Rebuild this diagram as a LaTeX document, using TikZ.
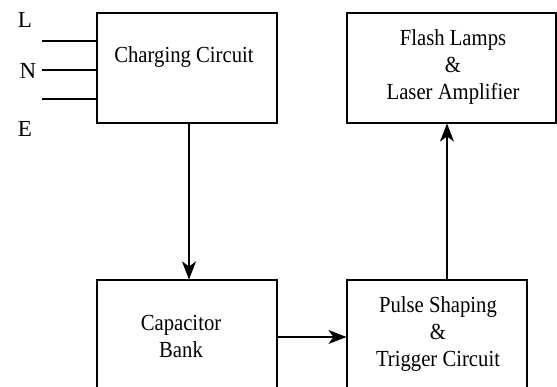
\documentclass[tikz,border=0pt]{standalone}
\usepackage{fontspec}
\setmainfont{Liberation Serif}
\usetikzlibrary{arrows.meta,calc}

% squeeze the text a little sideways, as in the source picture
\newcommand{\sq}[1]{\scalebox{0.9}[1]{\begin{tabular}{@{}c@{}}#1\end{tabular}}}

\tikzset{
	blk/.style={draw,line width=1.1pt,rectangle,inner sep=0pt},
	txt/.style={font=\rmfamily\fontsize{23}{27}\selectfont,inner sep=0pt},
	wire/.style={line width=1.1pt},
	flow/.style={line width=1.1pt,-{Stealth[length=18pt,width=14pt,inset=5pt]}}
}

\begin{document}
\begin{tikzpicture}[x=1pt,y=-1pt]
			% Page frame: one unit is one pixel of the reference, y runs downwards.
			\useasboundingbox (0,0) rectangle (557,387);

			% The four blocks; the lower two run past the bottom edge.
			\node[blk,minimum width=180pt,minimum height=110pt] (cc) at (187,68) {};
			\node[txt] (cclabel) at (184,57) {\sq{Charging Circuit}};
			\node[blk,minimum width=209pt,minimum height=110pt] (fl) at (451.5,68) {};
			\node[txt] (fllabel) at (453,67) {\sq{Flash Lamps\\\&\\Laser Amplifier}};
			\node[blk,minimum width=180pt,minimum height=114pt] (cb) at (187,337) {};
			\node[txt] (cblabel) at (181,339) {\sq{Capacitor\\Bank}};
			\node[blk,minimum width=180pt,minimum height=114pt] (ps) at (437,337) {};
			\node[txt] (pslabel) at (438,334) {\sq{Pulse Shaping\\\&\\Trigger Circuit}};

			% Mains inputs L, N and E feeding the charger.
			\coordinate (inL) at (42,41);
			\coordinate (inN) at (42,70);
			\coordinate (inE) at (42,99);
			\draw[wire] (inL) -- (inL -| cc.west);
			\draw[wire] (inN) -- (inN -| cc.west);
			\draw[wire] (inE) -- (inE -| cc.west);
			\node[txt] (lblL) at (25,20) {L};
			\node[txt] (lblN) at (28,71) {N};
			\node[txt] (lblE) at (25,129) {E};

			% Energy path through the chain.
			\draw[flow] ([xshift=2pt]cc.south) -- ([xshift=2pt]cb.north);
			\draw[flow] (cb.east) -- (ps.west);
			\draw[flow] ([xshift=10pt]ps.north) -- ([xshift=10pt]ps.north |- fl.south);
		\end{tikzpicture}
\end{document}
